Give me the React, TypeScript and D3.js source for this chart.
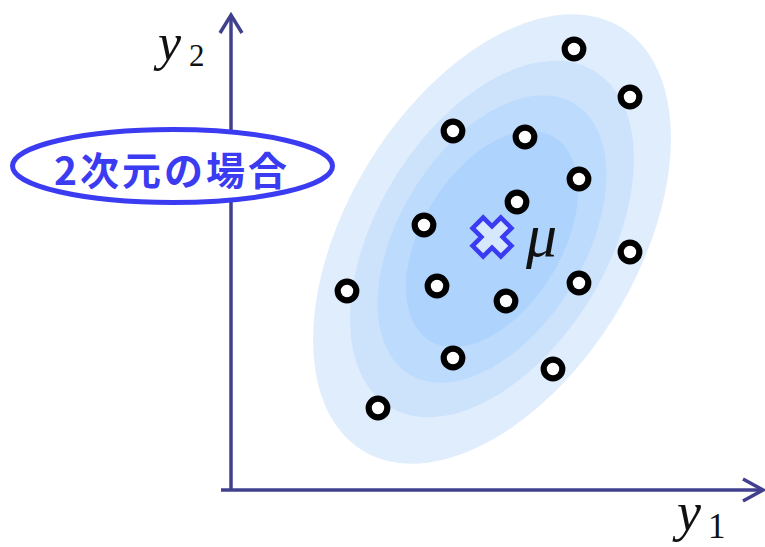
import React from "react";
import * as d3 from "d3";

// Observed sample (y1, y2)
const sampleY1 = [6.86, 7.98, 4.44, 5.88, 6.96, 5.72, 3.86, 7.98, 2.32, 4.12, 5.5, 6.96, 4.44, 6.44, 2.94];
const sampleY2 = [8.82, 7.86, 7.18, 7.06, 6.22, 5.76, 5.3, 4.76, 3.98, 4.08, 3.78, 4.14, 2.64, 2.42, 1.64];

// Mean vector and covariance of the 2-D normal
const meanVec = [5.22, 5.02];
const covRow1 = [2.958, 1.666];
const covRow2 = [1.666, 4.666];

// Mahalanobis radii of the shaded contours (outer to inner)
const contourLevels = [2.08, 1.65, 1.33, 1.0];
const contourFills = ["#dfedfd", "#cde3fc", "#bddbfc", "#aed3fc"];

const axisLabels = { x: "y", xSub: "1", y: "y", ySub: "2", mean: "μ" };
const badgeText = "2次元の場合";

const W = 765;
const H = 547;

export default function App() {
  const x = d3.scaleLinear().domain([0, 10]).range([231, 731]);
  const y = d3.scaleLinear().domain([0, 10]).range([490, -10]);

  // Cholesky factor of the covariance
  const l11 = Math.sqrt(covRow1[0]);
  const l21 = covRow2[0] / l11;
  const l22 = Math.sqrt(covRow2[1] - l21 * l21);

  const ts = d3.range(0, 2 * Math.PI, Math.PI / 90);
  const ellipse = (k: number) =>
    ts.map((t) => {
      const u = k * Math.cos(t);
      const v = k * Math.sin(t);
      return [meanVec[0] + l11 * u, meanVec[1] + l21 * u + l22 * v] as [number, number];
    });
  const line = d3
    .line<[number, number]>()
    .x((d) => x(d[0]))
    .y((d) => y(d[1]))
    .curve(d3.curveLinearClosed);

  const axisColor = "#40408e";
  const blue = "#3b3bf2";
  const ox = x(0);
  const oy = y(0);

  // Rotated plus (an "x") marking the mean
  const mx = x(meanVec[0]);
  const my = y(meanVec[1]) - 2;
  const L = 20;
  const w = 7.5;
  const plus: [number, number][] = [
    [-w, -L], [w, -L], [w, -w], [L, -w], [L, w], [w, w],
    [w, L], [-w, L], [-w, w], [-L, w], [-L, -w], [-w, -w],
  ];
  const rot = plus.map(([a, b]) => {
    const c = Math.SQRT1_2;
    return [mx + c * (a - b), my + c * (a + b)];
  });
  const crossPath = "M" + rot.map((p) => p.join(",")).join("L") + "Z";

  const serif = "'Liberation Serif', serif";

  return (
    <svg width={W} height={H} style={{ position: "absolute", left: 0, top: 0, background: "#fff" }}>
      {contourLevels.map((k, i) => (
        <path key={k} d={line(ellipse(k)) || ""} fill={contourFills[i]} stroke="none" />
      ))}

      {/* axes */}
      <line x1={ox} y1={oy} x2={ox} y2={15} stroke={axisColor} strokeWidth={3.5} />
      <polyline points={`${ox - 11},${33} ${ox},${15} ${ox + 11},${33}`} fill="none" stroke={axisColor} strokeWidth={3.5} />
      <line x1={ox - 10} y1={oy} x2={763} y2={oy} stroke={axisColor} strokeWidth={3.5} />
      <polyline points={`${743},${oy - 11} ${763},${oy} ${743},${oy + 11}`} fill="none" stroke={axisColor} strokeWidth={3.5} />

      {/* axis labels */}
      <text x={158} y={60} fontFamily={serif} fontStyle="italic" fontSize={52} fill="#111">{axisLabels.y}</text>
      <text x={189} y={66} fontFamily={serif} fontSize={31} fill="#111">{axisLabels.ySub}</text>
      <text x={677} y={530} fontFamily={serif} fontStyle="italic" fontSize={54} fill="#111">{axisLabels.x}</text>
      <text x={708} y={538} fontFamily={serif} fontSize={35} fill="#111">{axisLabels.xSub}</text>

      {/* sample points */}
      {sampleY1.map((v, i) => (
        <circle key={i} cx={x(v)} cy={y(sampleY2[i])} r={9.3} fill="#fff" stroke="#000" strokeWidth={6.2} />
      ))}

      {/* mean */}
      <path d={crossPath} fill="#d6e8fe" stroke={blue} strokeWidth={4.5} strokeLinejoin="miter" />
      <text x={526} y={256} fontFamily={serif} fontStyle="italic" fontSize={62} fill="#111">{axisLabels.mean}</text>

      {/* badge */}
      <ellipse cx={172.5} cy={166} rx={160} ry={36.5} fill="#fff" stroke={blue} strokeWidth={5} />
      <text x={54} y={185} fontFamily="'Noto Sans CJK JP', sans-serif" fontWeight={700} fontSize={39} letterSpacing={3} fill={blue}>
        {badgeText}
      </text>
    </svg>
  );
}
